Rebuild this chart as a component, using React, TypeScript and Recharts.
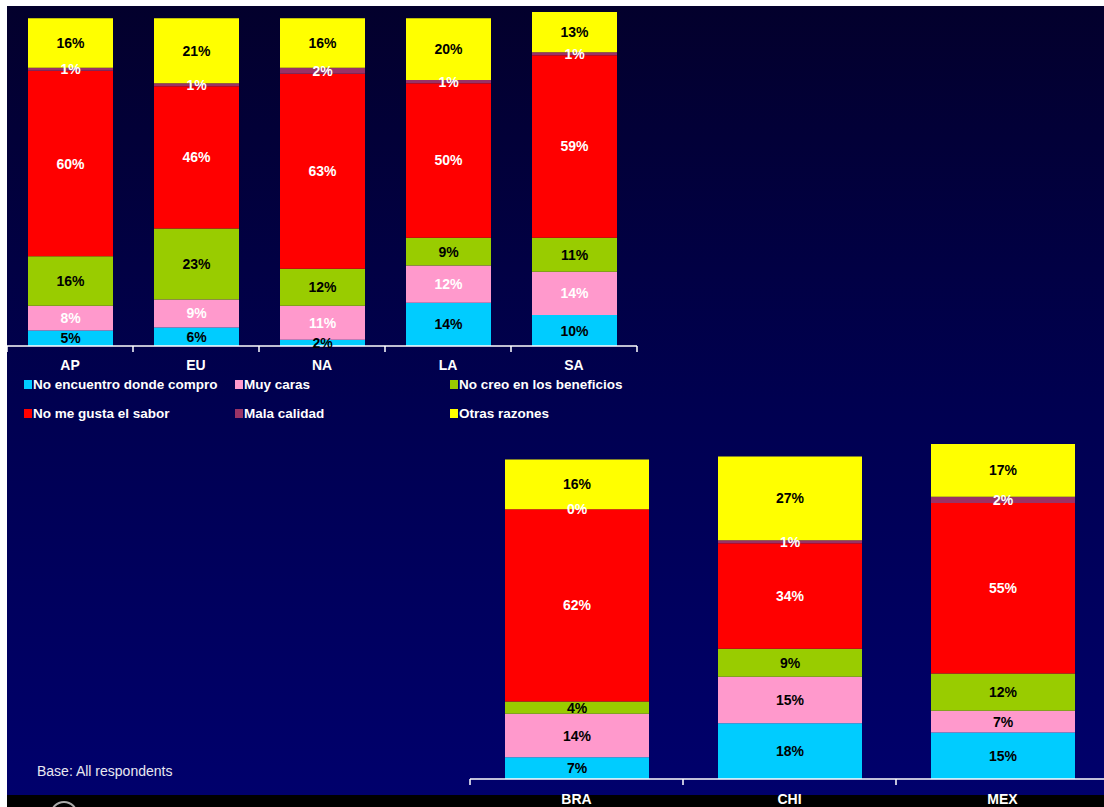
import { BarChart, Bar, XAxis, YAxis, Legend, LabelList } from "recharts";

const regions = ["AP", "EU", "NA", "LA", "SA"];
const countries = ["BRA", "CHI", "MEX"];

const seriesNames = [
  "No encuentro donde compro",
  "Muy caras",
  "No creo en los beneficios",
  "No me gusta el sabor",
  "Mala calidad",
  "Otras razones",
];
const seriesKeys = ["noEncuentro", "muyCaras", "noCreo", "sabor", "calidad", "otras"];
const seriesColors = ["#00CCFF", "#FF99CC", "#99CC00", "#FF0000", "#993366", "#FFFF00"];

// label text colour per series, upper and lower chart
const regionLabelColors = ["#000", "#fff", "#000", "#fff", "#fff", "#000"];
const countryLabelColors = ["#000", "#000", "#000", "#fff", "#fff", "#000"];

const regionNoEncuentro = [5, 6, 2, 14, 10];
const regionMuyCaras = [8, 9, 11, 12, 14];
const regionNoCreo = [16, 23, 12, 9, 11];
const regionSabor = [60, 46, 63, 50, 59];
const regionCalidad = [1, 1, 2, 1, 1];
const regionOtras = [16, 21, 16, 20, 13];

const countryNoEncuentro = [7, 18, 15];
const countryMuyCaras = [14, 15, 7];
const countryNoCreo = [4, 9, 12];
const countrySabor = [62, 34, 55];
const countryCalidad = [0, 1, 2];
const countryOtras = [16, 27, 17];

const regionSeries = [regionNoEncuentro, regionMuyCaras, regionNoCreo, regionSabor, regionCalidad, regionOtras];
const countrySeries = [countryNoEncuentro, countryMuyCaras, countryNoCreo, countrySabor, countryCalidad, countryOtras];

const buildRows = (names: string[], series: number[][]) =>
  names.map((name, i) => {
    const row: Record<string, string | number> = { name };
    seriesKeys.forEach((k, s) => {
      row[k] = series[s][i];
    });
    return row;
  });

const regionData = buildRows(regions, regionSeries);
const countryData = buildRows(countries, countrySeries);

// the helper number axis runs over the row index 0..n-1; category borders sit at k*(n-1)/n
const edgeTicks = (n: number) => Array.from({ length: n + 1 }, (_, k) => (k * (n - 1)) / n);

const FONT = "'Liberation Sans', Arial, sans-serif";

const labelStyle = { fontFamily: FONT, fontWeight: 700, fontSize: 14 } as const;

const emptyTick = () => <g />;

const renderLegend = (props: any) => {
  const payload = [...(props.payload || [])].sort(
    (a: any, b: any) => seriesNames.indexOf(a.value) - seriesNames.indexOf(b.value)
  );
  return (
    <div
      style={{
        height: 54,
        paddingLeft: 17,
        display: "grid",
        gridTemplateColumns: "211px 215px 200px",
        rowGap: 13,
        gridAutoRows: "16px",
      }}
    >
      {payload.map((p: any) => (
        <div
          key={p.value}
          style={{ display: "flex", alignItems: "center", whiteSpace: "nowrap", ...labelStyle, fontSize: 13.5, color: "#fff" }}
        >
          <span style={{ width: 8, height: 9, background: p.color, marginRight: 1, display: "inline-block" }} />
          {p.value}
        </div>
      ))}
    </div>
  );
};

const renderBars = (labelColors: string[]) =>
  seriesKeys.map((k, s) => (
    <Bar
      key={k}
      dataKey={k}
      name={seriesNames[s]}
      stackId="a"
      xAxisId="axisB"
      fill={seriesColors[s]}
      minPointSize={0.01}
      isAnimationActive={false}
    >
      <LabelList
        dataKey={k}
        position="center"
        formatter={(v: any) => `${v}%`}
        fill={labelColors[s]}
        style={labelStyle}
      />
    </Bar>
  ));

const App = () => {
  return (
    <div style={{ position: "absolute", left: 0, top: 0, width: 1104, height: 807, background: "#fff", overflow: "hidden" }}>
      <div
        style={{
          position: "absolute",
          left: 7,
          top: 6,
          width: 1097,
          height: 789,
          background: "linear-gradient(to bottom, #03002c 0%, #000050 50%, #00006c 100%)",
        }}
      />
      <div style={{ position: "absolute", left: 7, top: 795, width: 1097, height: 12, background: "#000" }} />
      <div
        style={{
          position: "absolute",
          left: 50,
          top: 801,
          width: 28,
          height: 28,
          borderRadius: "50%",
          border: "2px solid #aaa",
          boxSizing: "border-box",
        }}
      />

      <div style={{ position: "absolute", left: 7, top: 0 }}>
        <BarChart width={633} height={430} data={regionData} margin={{ top: 12, right: 3, left: 0, bottom: 0 }} barSize={85}>
          <YAxis hide type="number" domain={[0, 108]} allowDataOverflow />
          <XAxis
            xAxisId="axisB"
            dataKey="name"
            height={29}
            interval={0}
            axisLine={false}
            tickLine={false}
            tickSize={8}
            tickMargin={5}
            tick={{ fill: "#fff", ...labelStyle }}
          />
          <XAxis
            xAxisId="axisA"
            type="number"
            domain={[0, regions.length - 1]}
            ticks={edgeTicks(regions.length)}
            interval={0}
            allowDataOverflow
            height={1}
            tick={emptyTick}
            tickSize={6}
            tickLine={{ stroke: "#fff", strokeWidth: 1.5 }}
            axisLine={{ stroke: "#fff", strokeWidth: 1.5 }}
          />
          <Legend verticalAlign="bottom" align="left" content={renderLegend} />
          {renderBars(regionLabelColors)}
        </BarChart>
      </div>

      <div style={{ position: "absolute", left: 469, top: 432 }}>
        <BarChart width={640} height={377} data={countryData} margin={{ top: 12, right: 0, left: 1, bottom: 0 }} barSize={144}>
          <YAxis hide type="number" domain={[0, 108]} allowDataOverflow />
          <XAxis
            xAxisId="axisB"
            dataKey="name"
            height={29}
            interval={0}
            axisLine={false}
            tickLine={false}
            tickSize={8}
            tickMargin={6}
            tick={{ fill: "#fff", ...labelStyle }}
          />
          <XAxis
            xAxisId="axisA"
            type="number"
            domain={[0, countries.length - 1]}
            ticks={edgeTicks(countries.length)}
            interval={0}
            allowDataOverflow
            height={1}
            tick={emptyTick}
            tickSize={6}
            tickLine={{ stroke: "#fff", strokeWidth: 1.5 }}
            axisLine={{ stroke: "#fff", strokeWidth: 1.5 }}
          />
          {renderBars(countryLabelColors)}
        </BarChart>
      </div>

      <div
        style={{
          position: "absolute",
          left: 37,
          top: 763,
          color: "#e8e8f0",
          fontFamily: FONT,
          fontSize: 14,
        }}
      >
        Base: All respondents
      </div>
    </div>
  );
};

export default App;
